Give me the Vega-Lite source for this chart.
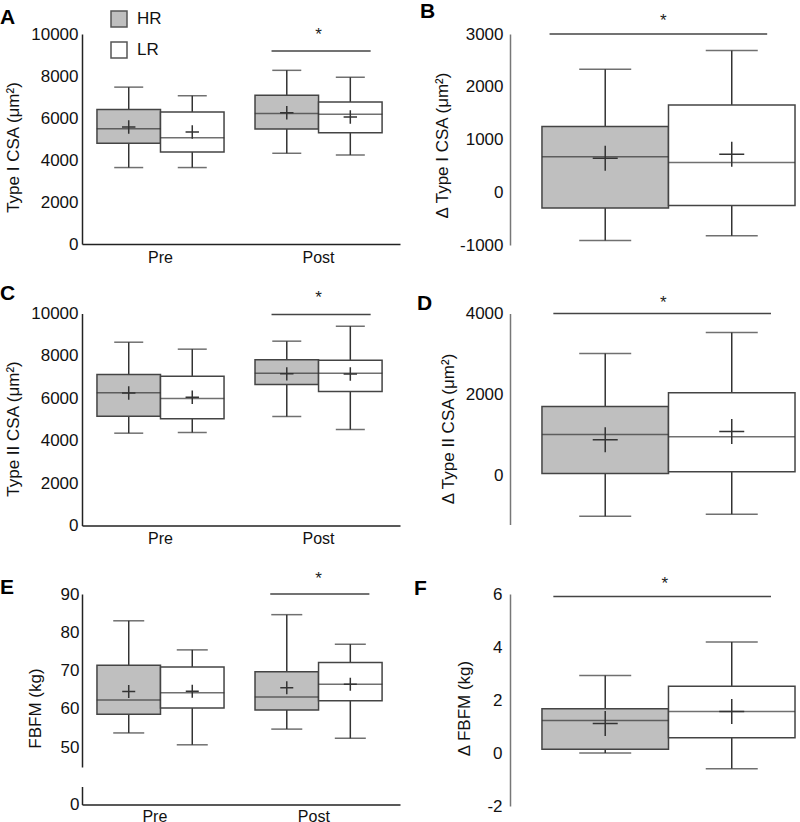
{
  "$schema": "https://vega.github.io/schema/vega-lite/v6.json",
  "padding": 0,
  "background": "white",
  "datasets": {
    "boxes": [
      {"panel": "A", "time": "Pre", "group": "HR", "min": 3640, "q1": 4800, "median": 5490, "q3": 6400, "max": 7470, "mean": 5570},
      {"panel": "A", "time": "Pre", "group": "LR", "min": 3640, "q1": 4380, "median": 5060, "q3": 6290, "max": 7060, "mean": 5330},
      {"panel": "A", "time": "Post", "group": "HR", "min": 4320, "q1": 5480, "median": 6220, "q3": 7080, "max": 8270, "mean": 6250},
      {"panel": "A", "time": "Post", "group": "LR", "min": 4240, "q1": 5300, "median": 6180, "q3": 6760, "max": 7940, "mean": 6050},
      {"panel": "B", "group": "HR", "min": -914, "q1": -298, "median": 675, "q3": 1247, "max": 2333, "mean": 644},
      {"panel": "B", "group": "LR", "min": -826, "q1": -249, "median": 562, "q3": 1655, "max": 2685, "mean": 720},
      {"panel": "C", "time": "Pre", "group": "HR", "min": 4355, "q1": 5157, "median": 6258, "q3": 7123, "max": 8646, "mean": 6250},
      {"panel": "C", "time": "Pre", "group": "LR", "min": 4387, "q1": 5031, "median": 5991, "q3": 7044, "max": 8318, "mean": 6053},
      {"panel": "C", "time": "Post", "group": "HR", "min": 5142, "q1": 6651, "median": 7186, "q3": 7814, "max": 8695, "mean": 7154},
      {"panel": "C", "time": "Post", "group": "LR", "min": 4528, "q1": 6321, "median": 7180, "q3": 7800, "max": 9403, "mean": 7150},
      {"panel": "D", "group": "HR", "min": -995, "q1": 57, "median": 1017, "q3": 1707, "max": 3012, "mean": 887},
      {"panel": "D", "group": "LR", "min": -946, "q1": 99, "median": 961, "q3": 2044, "max": 3532, "mean": 1091},
      {"panel": "E", "time": "Pre", "group": "HR", "min": 53.7, "q1": 58.6, "median": 62.3, "q3": 71.4, "max": 83.0, "mean": 64.5},
      {"panel": "E", "time": "Pre", "group": "LR", "min": 50.6, "q1": 60.2, "median": 64.2, "q3": 70.9, "max": 75.4, "mean": 64.6},
      {"panel": "E", "time": "Post", "group": "HR", "min": 54.7, "q1": 59.7, "median": 63.1, "q3": 69.7, "max": 84.6, "mean": 65.5},
      {"panel": "E", "time": "Post", "group": "LR", "min": 52.3, "q1": 62.1, "median": 66.4, "q3": 72.1, "max": 76.9, "mean": 66.4},
      {"panel": "F", "group": "HR", "min": 0.0, "q1": 0.14, "median": 1.23, "q3": 1.67, "max": 2.92, "mean": 1.11},
      {"panel": "F", "group": "LR", "min": -0.59, "q1": 0.58, "median": 1.57, "q3": 2.52, "max": 4.19, "mean": 1.57}
    ],
    "sig": [
      {"panel": "A", "from": "Post", "to": "Post", "y": 9190, "star": 9730, "label": "*"},
      {"panel": "B", "from": "HR", "to": "LR", "y": 3000, "star": 3156, "label": "*"},
      {"panel": "C", "from": "Post", "to": "Post", "y": 9950, "star": 10472, "label": "*"},
      {"panel": "D", "from": "HR", "to": "LR", "y": 4000, "star": 4138, "label": "*"},
      {"panel": "E", "from": "Post", "to": "Post", "y": 90, "star": 92.7, "label": "*"},
      {"panel": "F", "from": "HR", "to": "LR", "y": 5.91, "star": 6.18, "label": "*"}
    ]
  },
  "columns": 2,
  "bounds": "flush",
  "spacing": {"row": 68.5, "column": 110},
  "concat": [
    {
      "width": 318, "height": 210,
      "title": {"text": "A", "anchor": "start", "frame": "group", "dx": -82, "dy": 7},
      "layer": [
        {
          "data": {"name": "boxes"},
          "transform": [{"filter": "datum.panel === 'A'"}],
          "encoding": {
            "x": {"field": "time", "type": "nominal", "scale": {"domain": ["Pre", "Post"], "paddingInner": 0.196, "paddingOuter": 0.104, "align": 0.455}, "axis": {"title": null, "labelAngle": 0, "labelFontSize": 16, "labelPadding": 5, "domainColor": "#222"}},
            "xOffset": {"field": "group", "type": "nominal", "scale": {"domain": ["HR", "LR"], "paddingInner": 0, "paddingOuter": 0}}
          },
          "layer": [
            {"mark": {"type": "rule", "stroke": "#333", "strokeWidth": 1.5}, "encoding": {"y": {"field": "min", "type": "quantitative", "scale": {"domain": [0, 10000], "nice": false, "zero": false}, "axis": {"title": "Type I CSA (μm²)", "labelExpr": "'' + datum.value", "values": [0, 2000, 4000, 6000, 8000, 10000], "domainColor": "#222", "labelFontSize": 17, "labelPadding": 4, "titlePadding": 8, "titleY": 113}}, "y2": {"field": "max"}}},
            {"mark": {"type": "bar", "stroke": "#444", "strokeWidth": 1.5}, "encoding": {"y": {"field": "q1", "type": "quantitative"}, "y2": {"field": "q3"}, "fill": {"field": "group", "type": "nominal", "scale": {"domain": ["HR", "LR"], "range": ["#bfbfbf", "#ffffff"]}, "legend": {"orient": "none", "legendX": 28, "legendY": -24, "title": null}}}},
            {"mark": {"type": "tick", "color": "#333", "size": 64, "thickness": 1.5}, "encoding": {"y": {"field": "median", "type": "quantitative"}}},
            {"mark": {"type": "tick", "color": "#333", "size": 29, "thickness": 1.5}, "encoding": {"y": {"field": "min", "type": "quantitative"}}},
            {"mark": {"type": "tick", "color": "#333", "size": 29, "thickness": 1.5}, "encoding": {"y": {"field": "max", "type": "quantitative"}}},
            {"mark": {"type": "point", "shape": "M-1,0H1M0,-1V1", "filled": false, "stroke": "#333", "strokeWidth": 1.5, "size": 180, "opacity": 1}, "encoding": {"y": {"field": "mean", "type": "quantitative"}}}
          ]
        },
        {"data": {"name": "sig"}, "transform": [{"filter": "datum.panel === 'A'"}], "mark": {"type": "rule", "stroke": "#444", "strokeWidth": 1.5}, "encoding": {"x": {"field": "from", "type": "nominal", "bandPosition": 0.13}, "x2": {"field": "to", "bandPosition": 0.91}, "y": {"field": "y", "type": "quantitative"}}},
        {"data": {"name": "sig"}, "transform": [{"filter": "datum.panel === 'A'"}], "mark": {"type": "text", "fontSize": 17, "baseline": "alphabetic", "color": "#222"}, "encoding": {"x": {"field": "from", "type": "nominal", "bandPosition": 0.5}, "y": {"field": "star", "type": "quantitative"}, "text": {"field": "label"}}}
      ]
    },
    {
      "width": 290, "height": 211,
      "title": {"text": "B", "anchor": "start", "frame": "group", "dx": -90, "dy": 14},
      "layer": [
        {
          "data": {"name": "boxes"},
          "transform": [{"filter": "datum.panel === 'B'"}],
          "encoding": {
            "x": {"field": "group", "type": "nominal", "scale": {"domain": ["HR", "LR"], "paddingInner": 0, "paddingOuter": 0.146, "align": 0.865}, "axis": null}
          },
          "layer": [
            {"mark": {"type": "rule", "stroke": "#333", "strokeWidth": 1.5}, "encoding": {"y": {"field": "min", "type": "quantitative", "scale": {"domain": [-1000, 3000], "nice": false, "zero": false}, "axis": {"title": "Δ Type I CSA (μm²)", "labelExpr": "'' + datum.value", "values": [-1000, 0, 1000, 2000, 3000], "domainColor": "#777", "labelFontSize": 17, "labelPadding": 7, "titlePadding": 8, "titleY": 111}}, "y2": {"field": "max"}}},
            {"mark": {"type": "bar", "stroke": "#444", "strokeWidth": 1.5}, "encoding": {"y": {"field": "q1", "type": "quantitative"}, "y2": {"field": "q3"}, "fill": {"field": "group", "type": "nominal", "scale": {"domain": ["HR", "LR"], "range": ["#bfbfbf", "#ffffff"]}, "legend": {"orient": "none", "legendX": 28, "legendY": -24, "title": null}}}},
            {"mark": {"type": "tick", "color": "#333", "size": 126.5, "thickness": 1.5}, "encoding": {"y": {"field": "median", "type": "quantitative"}}},
            {"mark": {"type": "tick", "color": "#333", "size": 52, "thickness": 1.5}, "encoding": {"y": {"field": "min", "type": "quantitative"}}},
            {"mark": {"type": "tick", "color": "#333", "size": 52, "thickness": 1.5}, "encoding": {"y": {"field": "max", "type": "quantitative"}}},
            {"mark": {"type": "point", "shape": "M-1,0H1M0,-1V1", "filled": false, "stroke": "#333", "strokeWidth": 1.5, "size": 625, "opacity": 1}, "encoding": {"y": {"field": "mean", "type": "quantitative"}}}
          ]
        },
        {"data": {"name": "sig"}, "transform": [{"filter": "datum.panel === 'B'"}], "mark": {"type": "rule", "stroke": "#444", "strokeWidth": 1.5}, "encoding": {"x": {"field": "from", "type": "nominal", "bandPosition": 0.06}, "x2": {"field": "to", "bandPosition": 0.78}, "y": {"field": "y", "type": "quantitative"}}},
        {"data": {"name": "sig"}, "transform": [{"filter": "datum.panel === 'B'"}], "mark": {"type": "text", "fontSize": 17, "baseline": "alphabetic", "color": "#222"}, "encoding": {"x": {"field": "from", "type": "nominal", "bandPosition": 0.96}, "y": {"field": "star", "type": "quantitative"}, "text": {"field": "label"}}}
      ]
    },
    {
      "width": 318, "height": 212,
      "title": {"text": "C", "anchor": "start", "frame": "group", "dx": -82, "dy": 19},
      "layer": [
        {
          "data": {"name": "boxes"},
          "transform": [{"filter": "datum.panel === 'C'"}],
          "encoding": {
            "x": {"field": "time", "type": "nominal", "scale": {"domain": ["Pre", "Post"], "paddingInner": 0.196, "paddingOuter": 0.104, "align": 0.455}, "axis": {"title": null, "labelAngle": 0, "labelFontSize": 16, "labelPadding": 5, "domainColor": "#222"}},
            "xOffset": {"field": "group", "type": "nominal", "scale": {"domain": ["HR", "LR"], "paddingInner": 0, "paddingOuter": 0}}
          },
          "layer": [
            {"mark": {"type": "rule", "stroke": "#333", "strokeWidth": 1.5}, "encoding": {"y": {"field": "min", "type": "quantitative", "scale": {"domain": [0, 10000], "nice": false, "zero": false}, "axis": {"title": "Type II CSA (μm²)", "labelExpr": "'' + datum.value", "values": [0, 2000, 4000, 6000, 8000, 10000], "domainColor": "#222", "labelFontSize": 17, "labelPadding": 4, "titlePadding": 8, "titleY": 115}}, "y2": {"field": "max"}}},
            {"mark": {"type": "bar", "stroke": "#444", "strokeWidth": 1.5}, "encoding": {"y": {"field": "q1", "type": "quantitative"}, "y2": {"field": "q3"}, "fill": {"field": "group", "type": "nominal", "scale": {"domain": ["HR", "LR"], "range": ["#bfbfbf", "#ffffff"]}, "legend": {"orient": "none", "legendX": 28, "legendY": -24, "title": null}}}},
            {"mark": {"type": "tick", "color": "#333", "size": 64, "thickness": 1.5}, "encoding": {"y": {"field": "median", "type": "quantitative"}}},
            {"mark": {"type": "tick", "color": "#333", "size": 29, "thickness": 1.5}, "encoding": {"y": {"field": "min", "type": "quantitative"}}},
            {"mark": {"type": "tick", "color": "#333", "size": 29, "thickness": 1.5}, "encoding": {"y": {"field": "max", "type": "quantitative"}}},
            {"mark": {"type": "point", "shape": "M-1,0H1M0,-1V1", "filled": false, "stroke": "#333", "strokeWidth": 1.5, "size": 180, "opacity": 1}, "encoding": {"y": {"field": "mean", "type": "quantitative"}}}
          ]
        },
        {"data": {"name": "sig"}, "transform": [{"filter": "datum.panel === 'C'"}], "mark": {"type": "rule", "stroke": "#444", "strokeWidth": 1.5}, "encoding": {"x": {"field": "from", "type": "nominal", "bandPosition": 0.13}, "x2": {"field": "to", "bandPosition": 0.91}, "y": {"field": "y", "type": "quantitative"}}},
        {"data": {"name": "sig"}, "transform": [{"filter": "datum.panel === 'C'"}], "mark": {"type": "text", "fontSize": 17, "baseline": "alphabetic", "color": "#222"}, "encoding": {"x": {"field": "from", "type": "nominal", "bandPosition": 0.5}, "y": {"field": "star", "type": "quantitative"}, "text": {"field": "label"}}}
      ]
    },
    {
      "width": 290, "height": 211,
      "title": {"text": "D", "anchor": "start", "frame": "group", "dx": -93, "dy": 24},
      "layer": [
        {
          "data": {"name": "boxes"},
          "transform": [{"filter": "datum.panel === 'D'"}],
          "encoding": {
            "x": {"field": "group", "type": "nominal", "scale": {"domain": ["HR", "LR"], "paddingInner": 0, "paddingOuter": 0.146, "align": 0.865}, "axis": null}
          },
          "layer": [
            {"mark": {"type": "rule", "stroke": "#333", "strokeWidth": 1.5}, "encoding": {"y": {"field": "min", "type": "quantitative", "scale": {"domain": [-1200, 4000], "nice": false, "zero": false}, "axis": {"title": "Δ Type II CSA (μm²)", "labelExpr": "'' + datum.value", "values": [0, 2000, 4000], "domainColor": "#777", "labelFontSize": 17, "labelPadding": 7, "titlePadding": 8, "titleY": 115}}, "y2": {"field": "max"}}},
            {"mark": {"type": "bar", "stroke": "#444", "strokeWidth": 1.5}, "encoding": {"y": {"field": "q1", "type": "quantitative"}, "y2": {"field": "q3"}, "fill": {"field": "group", "type": "nominal", "scale": {"domain": ["HR", "LR"], "range": ["#bfbfbf", "#ffffff"]}, "legend": {"orient": "none", "legendX": 28, "legendY": -24, "title": null}}}},
            {"mark": {"type": "tick", "color": "#333", "size": 126.5, "thickness": 1.5}, "encoding": {"y": {"field": "median", "type": "quantitative"}}},
            {"mark": {"type": "tick", "color": "#333", "size": 52, "thickness": 1.5}, "encoding": {"y": {"field": "min", "type": "quantitative"}}},
            {"mark": {"type": "tick", "color": "#333", "size": 52, "thickness": 1.5}, "encoding": {"y": {"field": "max", "type": "quantitative"}}},
            {"mark": {"type": "point", "shape": "M-1,0H1M0,-1V1", "filled": false, "stroke": "#333", "strokeWidth": 1.5, "size": 625, "opacity": 1}, "encoding": {"y": {"field": "mean", "type": "quantitative"}}}
          ]
        },
        {"data": {"name": "sig"}, "transform": [{"filter": "datum.panel === 'D'"}], "mark": {"type": "rule", "stroke": "#444", "strokeWidth": 1.5}, "encoding": {"x": {"field": "from", "type": "nominal", "bandPosition": 0.09}, "x2": {"field": "to", "bandPosition": 0.81}, "y": {"field": "y", "type": "quantitative"}}},
        {"data": {"name": "sig"}, "transform": [{"filter": "datum.panel === 'D'"}], "mark": {"type": "text", "fontSize": 17, "baseline": "alphabetic", "color": "#222"}, "encoding": {"x": {"field": "from", "type": "nominal", "bandPosition": 0.96}, "y": {"field": "star", "type": "quantitative"}, "text": {"field": "label"}}}
      ]
    },
    {
      "title": {"text": "E", "anchor": "start", "frame": "group", "dx": -82, "dy": 32},
      "spacing": 19.5,
      "bounds": "flush",
      "vconcat": [
        {
          "width": 318, "height": 173,
          "layer": [
            {
              "data": {"name": "boxes"},
              "transform": [{"filter": "datum.panel === 'E'"}],
              "encoding": {
                "x": {"field": "time", "type": "nominal", "scale": {"domain": ["Pre", "Post"], "paddingInner": 0.196, "paddingOuter": 0.104, "align": 0.455}, "axis": null},
                "xOffset": {"field": "group", "type": "nominal", "scale": {"domain": ["HR", "LR"], "paddingInner": 0, "paddingOuter": 0}}
              },
              "layer": [
                {"mark": {"type": "rule", "stroke": "#333", "strokeWidth": 1.5}, "encoding": {"y": {"field": "min", "type": "quantitative", "scale": {"domain": [44.8, 90], "nice": false, "zero": false}, "axis": {"title": "FBFM (kg)", "values": [50, 60, 70, 80, 90], "domainColor": "#222", "labelFontSize": 17, "labelPadding": 3, "titlePadding": 16, "titleY": 114}}, "y2": {"field": "max"}}},
                {"mark": {"type": "bar", "stroke": "#444", "strokeWidth": 1.5}, "encoding": {"y": {"field": "q1", "type": "quantitative"}, "y2": {"field": "q3"}, "fill": {"field": "group", "type": "nominal", "scale": {"domain": ["HR", "LR"], "range": ["#bfbfbf", "#ffffff"]}, "legend": {"orient": "none", "legendX": 28, "legendY": -24, "title": null}}}},
                {"mark": {"type": "tick", "color": "#333", "size": 64, "thickness": 1.5}, "encoding": {"y": {"field": "median", "type": "quantitative"}}},
                {"mark": {"type": "tick", "color": "#333", "size": 31, "thickness": 1.5}, "encoding": {"y": {"field": "min", "type": "quantitative"}}},
                {"mark": {"type": "tick", "color": "#333", "size": 31, "thickness": 1.5}, "encoding": {"y": {"field": "max", "type": "quantitative"}}},
                {"mark": {"type": "point", "shape": "M-1,0H1M0,-1V1", "filled": false, "stroke": "#333", "strokeWidth": 1.5, "size": 169, "opacity": 1}, "encoding": {"y": {"field": "mean", "type": "quantitative"}}}
              ]
            },
            {"data": {"name": "sig"}, "transform": [{"filter": "datum.panel === 'E'"}], "mark": {"type": "rule", "stroke": "#444", "strokeWidth": 1.5}, "encoding": {"x": {"field": "from", "type": "nominal", "bandPosition": 0.12}, "x2": {"field": "to", "bandPosition": 0.9}, "y": {"field": "y", "type": "quantitative"}}},
            {"data": {"name": "sig"}, "transform": [{"filter": "datum.panel === 'E'"}], "mark": {"type": "text", "fontSize": 17, "baseline": "alphabetic", "color": "#222"}, "encoding": {"x": {"field": "from", "type": "nominal", "bandPosition": 0.5}, "y": {"field": "star", "type": "quantitative"}, "text": {"field": "label"}}}
          ]
        },
        {
          "width": 318, "height": 18,
          "data": {"name": "boxes"},
          "transform": [{"filter": "datum.panel === 'E'"}],
          "mark": {"type": "point", "opacity": 0},
          "encoding": {
            "x": {"field": "time", "type": "nominal", "scale": {"domain": ["Pre", "Post"], "paddingInner": 0.196, "paddingOuter": 0.104, "align": 0.455}, "axis": {"title": null, "labelAngle": 0, "labelFontSize": 16, "labelPadding": 4, "domainColor": "#222"}},
            "y": {"datum": 0, "type": "quantitative", "scale": {"domain": [0, 4.7], "nice": false, "zero": false}, "axis": {"title": null, "values": [0], "domainColor": "#222", "labelFontSize": 17, "labelPadding": 3}}
          }
        }
      ]
    },
    {
      "width": 290, "height": 212,
      "title": {"text": "F", "anchor": "start", "frame": "group", "dx": -96, "dy": 28},
      "layer": [
        {
          "data": {"name": "boxes"},
          "transform": [{"filter": "datum.panel === 'F'"}],
          "encoding": {
            "x": {"field": "group", "type": "nominal", "scale": {"domain": ["HR", "LR"], "paddingInner": 0, "paddingOuter": 0.146, "align": 0.865}, "axis": null}
          },
          "layer": [
            {"mark": {"type": "rule", "stroke": "#333", "strokeWidth": 1.5}, "encoding": {"y": {"field": "min", "type": "quantitative", "scale": {"domain": [-2, 6], "nice": false, "zero": false}, "axis": {"title": "Δ FBFM (kg)", "labelExpr": "'' + datum.value", "values": [-2, 0, 2, 4, 6], "domainColor": "#777", "labelFontSize": 17, "labelPadding": 8, "titlePadding": 13, "titleY": 114}}, "y2": {"field": "max"}}},
            {"mark": {"type": "bar", "stroke": "#444", "strokeWidth": 1.5}, "encoding": {"y": {"field": "q1", "type": "quantitative"}, "y2": {"field": "q3"}, "fill": {"field": "group", "type": "nominal", "scale": {"domain": ["HR", "LR"], "range": ["#bfbfbf", "#ffffff"]}, "legend": {"orient": "none", "legendX": 28, "legendY": -24, "title": null}}}},
            {"mark": {"type": "tick", "color": "#333", "size": 126.5, "thickness": 1.5}, "encoding": {"y": {"field": "median", "type": "quantitative"}}},
            {"mark": {"type": "tick", "color": "#333", "size": 52, "thickness": 1.5}, "encoding": {"y": {"field": "min", "type": "quantitative"}}},
            {"mark": {"type": "tick", "color": "#333", "size": 52, "thickness": 1.5}, "encoding": {"y": {"field": "max", "type": "quantitative"}}},
            {"mark": {"type": "point", "shape": "M-1,0H1M0,-1V1", "filled": false, "stroke": "#333", "strokeWidth": 1.5, "size": 625, "opacity": 1}, "encoding": {"y": {"field": "mean", "type": "quantitative"}}}
          ]
        },
        {"data": {"name": "sig"}, "transform": [{"filter": "datum.panel === 'F'"}], "mark": {"type": "rule", "stroke": "#444", "strokeWidth": 1.5}, "encoding": {"x": {"field": "from", "type": "nominal", "bandPosition": 0.09}, "x2": {"field": "to", "bandPosition": 0.81}, "y": {"field": "y", "type": "quantitative"}}},
        {"data": {"name": "sig"}, "transform": [{"filter": "datum.panel === 'F'"}], "mark": {"type": "text", "fontSize": 17, "baseline": "alphabetic", "color": "#222"}, "encoding": {"x": {"field": "from", "type": "nominal", "bandPosition": 0.97}, "y": {"field": "star", "type": "quantitative"}, "text": {"field": "label"}}}
      ]
    }
  ],
  "config": {
    "font": "Liberation Sans",
    "view": {"stroke": null},
    "axis": {"ticks": false, "grid": false, "labelFontSize": 16, "titleFontSize": 17, "titleFontWeight": "normal", "labelColor": "#111", "titleColor": "#111", "domainWidth": 1.5},
    "title": {"fontSize": 21, "fontWeight": "bold", "color": "#000", "baseline": "alphabetic", "offset": 0},
    "legend": {"symbolType": "square", "symbolSize": 256, "symbolStrokeColor": "#555", "symbolStrokeWidth": 1.5, "labelFontSize": 17, "labelOffset": 9, "rowPadding": 9, "padding": 0, "labelColor": "#111"}
  }
}
